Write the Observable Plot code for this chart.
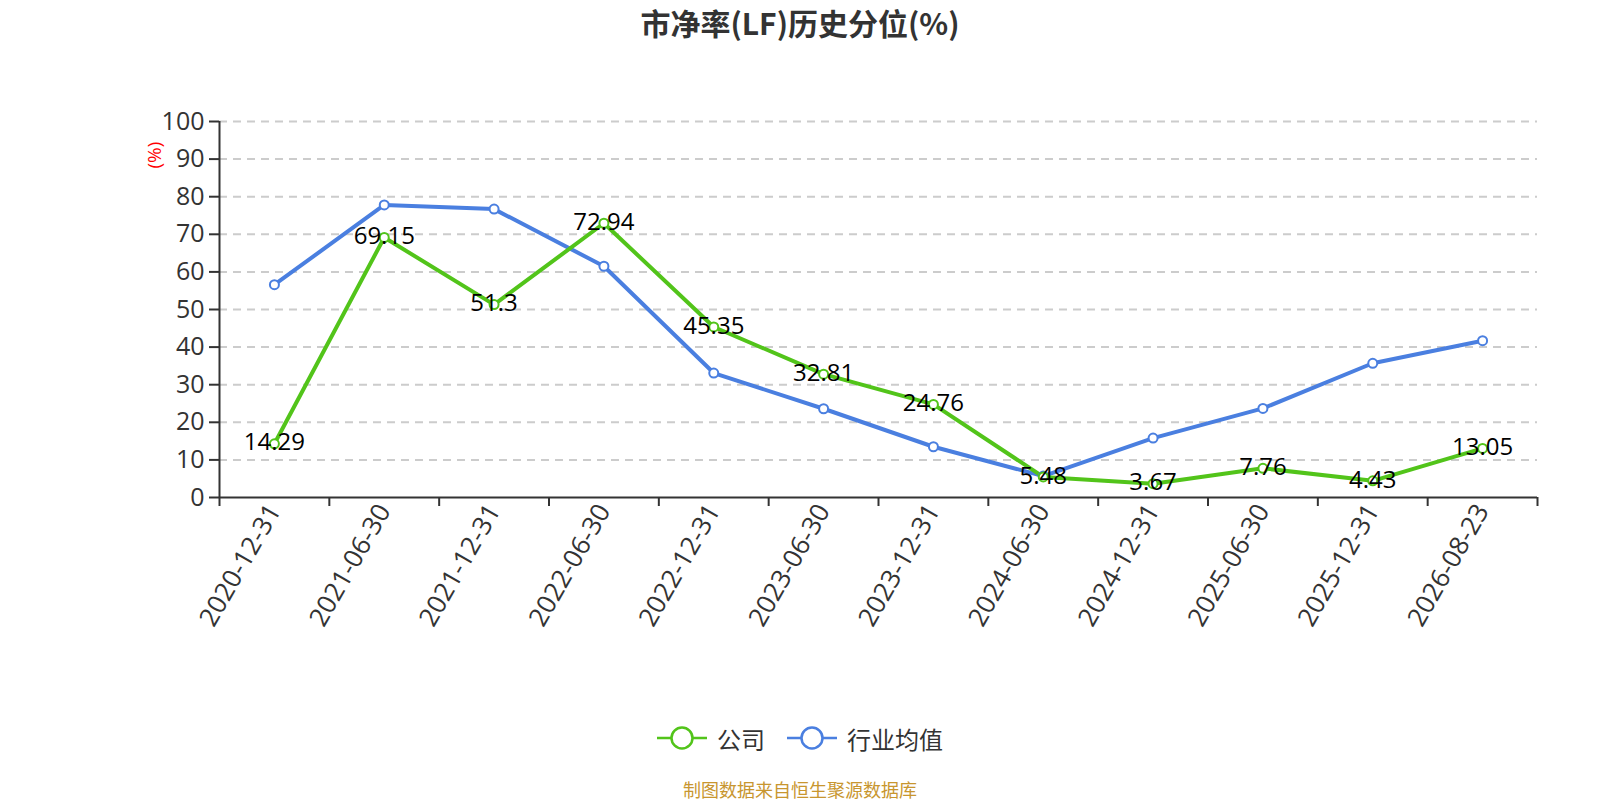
<!DOCTYPE html>
<html>
<head>
<meta charset="utf-8">
<script src="https://cdn.jsdelivr.net/npm/d3@7"></script>
<script src="https://cdn.jsdelivr.net/npm/@observablehq/plot@0.6"></script>
<style>
  html, body { margin: 0; padding: 0; background: #fff; }
  body { width: 1600px; height: 800px; position: relative; overflow: hidden;
         font-family: "Noto Sans CJK SC", "Open Sans", sans-serif; }
  #title { position: absolute; left: 0; width: 1600px; top: 0px; height: 45px; line-height: 45px; text-align: center;
           font-size: 30px; font-weight: bold; color: #333; }
  #chart { position: absolute; left: 0; top: 0; }
  #legend { position: absolute; left: 0; width: 1600px; top: 720px; height: 36px; display: flex;
            justify-content: center; align-items: center; font-size: 24px; color: #333; }
  .item { display: flex; align-items: center; margin: 0 11px; }
  .item svg { margin-right: 10px; }
  #footer { position: absolute; left: 0; width: 1600px; top: 776px; height: 26px; line-height: 26px; text-align: center;
            font-size: 18px; color: #c8962f; }
</style>
</head>
<body>
<div id="title">市净率(LF)历史分位(%)</div>
<div id="chart"></div>
<div id="legend"></div>
<div id="footer">制图数据来自恒生聚源数据库</div>
<script>
const categories = ["2020-12-31","2021-06-30","2021-12-31","2022-06-30","2022-12-31","2023-06-30","2023-12-31","2024-06-30","2024-12-31","2025-06-30","2025-12-31","2026-08-23"];
const companyValues = [14.29, 69.15, 51.3, 72.94, 45.35, 32.81, 24.76, 5.48, 3.67, 7.76, 4.43, 13.05];
const industryValues = [56.6, 77.8, 76.7, 61.5, 33.1, 23.6, 13.5, 5.7, 15.8, 23.7, 35.7, 41.7];
const yTicks = [0,10,20,30,40,50,60,70,80,90,100];
const seriesNames = ["公司", "行业均值"];
const colors = ["#52c41a", "#4a7fe0"];

const company = categories.map((c, i) => ({i, date: c, value: companyValues[i]}));
const industry = categories.map((c, i) => ({i, date: c, value: industryValues[i]}));
const boundaries = d3.range(categories.length + 1).map(k => k - 0.5);

const plot = Plot.plot({
  width: 1600,
  height: 700,
  marginTop: 121,
  marginBottom: 203,
  marginLeft: 219,
  marginRight: 63,
  style: {fontFamily: "'Open Sans', 'Noto Sans CJK SC', sans-serif", background: "transparent"},
  x: {type: "linear", domain: [-0.5, categories.length - 0.5]},
  y: {domain: [0, 100]},
  marks: [
    Plot.gridY(yTicks.filter(t => t > 0), {stroke: "#ccc", strokeOpacity: 1, strokeDasharray: "8,6", strokeWidth: 2}),
    Plot.axisY(yTicks, {tickSize: 10, tickPadding: 5, fontSize: 25, color: "#333", stroke: "#333", strokeWidth: 2, label: null, tickFormat: d => d}),
    Plot.ruleX([-0.5], {stroke: "#333", strokeWidth: 2}),
    Plot.ruleY([0], {stroke: "#333", strokeWidth: 2}),
    Plot.axisX(boundaries, {tickSize: 9, stroke: "#333", strokeWidth: 2, tickFormat: () => "", label: null}),
    Plot.axisX(d3.range(categories.length), {tickSize: 0, tickPadding: 9, tickRotate: -60, fontSize: 26, color: "#333",
      tickFormat: i => categories[i], label: null}),
    Plot.text(["(%)"], {frameAnchor: "top-left", dx: -72, dy: 47, rotate: -90, fill: "red", fontSize: 19}),
    Plot.line(industry, {x: "i", y: "value", stroke: colors[1], strokeWidth: 4}),
    Plot.line(company, {x: "i", y: "value", stroke: colors[0], strokeWidth: 4}),
    Plot.dot(industry, {x: "i", y: "value", r: 4.5, fill: "white", stroke: colors[1], strokeWidth: 2}),
    Plot.dot(company, {x: "i", y: "value", r: 4.5, fill: "white", stroke: colors[0], strokeWidth: 2}),
    Plot.text(company, {x: "i", y: "value", text: d => String(d.value), fill: "black", fontSize: 24, dy: -1, lineAnchor: "middle", textAnchor: "middle"})
  ]
});
document.getElementById("chart").appendChild(plot);

const legend = document.getElementById("legend");
seriesNames.forEach((name, k) => {
  const item = document.createElement("div");
  item.className = "item";
  item.innerHTML = `<svg width="50" height="26"><line x1="0" x2="50" y1="13" y2="13" stroke="${colors[k]}" stroke-width="2.5"/><circle cx="25" cy="13" r="10.5" fill="white" stroke="${colors[k]}" stroke-width="2.5"/></svg><span>${name}</span>`;
  legend.appendChild(item);
});
</script>
</body>
</html>
